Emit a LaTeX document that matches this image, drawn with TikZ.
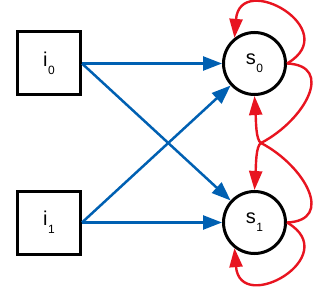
\documentclass[tikz,border=0pt]{standalone}
\usepackage{fontspec}
\setmainfont{Liberation Sans}
\usetikzlibrary{arrows.meta}
\definecolor{myblue}{RGB}{0,96,178}
\definecolor{myred}{RGB}{232,20,32}
\newcommand\lbl[2]{#1\kern0.5pt\raisebox{-8pt}{\fontsize{12}{12}\selectfont #2}}
\begin{document}
\begin{tikzpicture}[x=1pt,y=-1pt,
  inbox/.style={draw, line width=3pt, minimum size=63pt, inner sep=0pt, font=\fontsize{20}{20}\selectfont},
  state/.style={draw, circle, line width=3pt, minimum size=62pt, inner sep=0pt, font=\fontsize{20}{20}\selectfont},
  barrow/.style={draw=myblue, line width=2.5pt, -{Triangle[length=19pt,width=14pt]}},
  rarrow/.style={draw=myred, line width=2.4pt, -{Triangle[length=19pt,width=13pt]}}]
\useasboundingbox (0,0) rectangle (320,291);
\node[inbox] (i0) at (49,63.5) {\lbl{i}{0}};
\node[inbox] (i1) at (49,222.5) {\lbl{i}{1}};
\node[state] (s0) at (254.5,63.5) {\lbl{s}{0}};
\node[state] (s1) at (254.5,222.5) {\lbl{s}{1}};
\coordinate (cx) at (261,143);
\draw[barrow] (i0.east) -- (s0.west);
\draw[barrow] (i0.east) -- (s1);
\draw[barrow] (i1.east) -- (s0);
\draw[barrow] (i1.east) -- (s1.west);
\draw[rarrow] (s0.east) .. controls +(58,-33.5) and (240,-30) .. (s0.128);
\draw[rarrow] (s1.east) .. controls +(58,33.5) and (240,316) .. (s1.-128);
\draw[rarrow] (s0.east) .. controls +(48,2) and (305,120) .. (cx) .. controls (255.7,146) and (256,166) .. (s1.north);
\draw[rarrow] (s1.east) .. controls +(48,-2) and (305,166) .. (cx) .. controls (255.7,140) and (256,120) .. (s0.south);
\end{tikzpicture}
\end{document}
